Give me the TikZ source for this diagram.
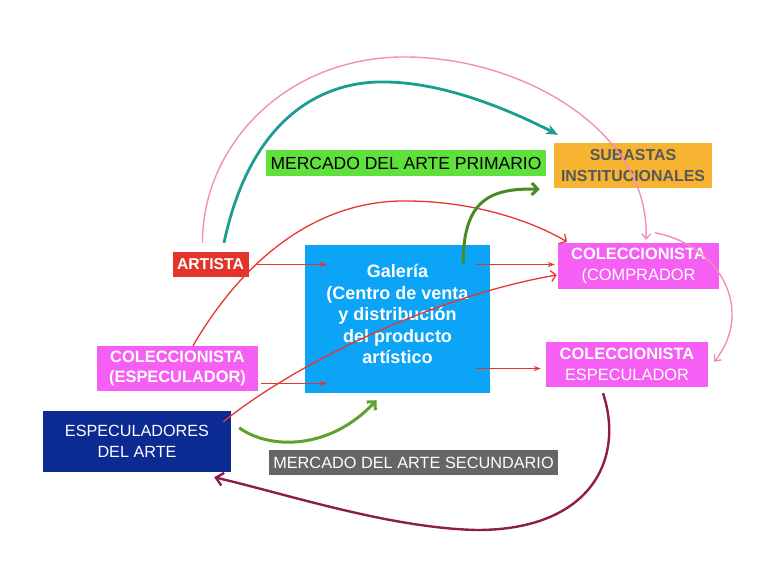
\documentclass[tikz,border=0pt]{standalone}
\usepackage{fontspec}
\setmainfont{Liberation Sans}
\usetikzlibrary{arrows.meta}
\definecolor{artistared}{HTML}{E3342B}
\definecolor{galeriablue}{HTML}{0BA4F6}
\definecolor{colecpink}{HTML}{F65FF3}
\definecolor{subastasorange}{HTML}{F6B432}
\definecolor{subastastext}{HTML}{585858}
\definecolor{primariogreen}{HTML}{5FE03D}
\definecolor{especblue}{HTML}{0B2A92}
\definecolor{secgray}{HTML}{666666}
\definecolor{flowred}{HTML}{E8362C}
\definecolor{flowteal}{HTML}{1B9E8F}
\definecolor{flowpink}{HTML}{F28DC2}
\definecolor{flowolive}{HTML}{4B8B26}
\definecolor{flowgreen}{HTML}{5EA12E}
\definecolor{flowmaroon}{HTML}{8E1D4E}

\begin{document}
\begin{tikzpicture}[x=1pt,y=-1pt,
    box/.style={inner sep=0pt,align=center,text=white},
    redflow/.style={draw=flowred,line width=1.2pt,-{Stealth[length=7pt,width=5pt]}},
    redcurve/.style={draw=flowred,line width=1.3pt,-{Straight Barb[length=5pt,width=11pt]}}]
    \useasboundingbox (0,0) rectangle (777,582);
    % boxes
    \node [box,fill=artistared,minimum width=76,minimum height=25,font=\bfseries\fontsize{15.7}{19}\selectfont] (artista) at (210.5,264.5) {ARTISTA};
    \node [box,fill=galeriablue,minimum width=185,minimum height=148,label={[text=white,align=center,font=\bfseries\fontsize{18}{21.5}\selectfont,yshift=5]center:{Galería\\(Centro de venta\\y distribución\\del producto\\artístico}}] (galeria) at (397.5,319) {};
    \node [box,fill=colecpink,minimum width=161,minimum height=46,font=\fontsize{16.4}{20.7}\selectfont] (comprador) at (638.5,266) {\textbf{COLECCIONISTA}\\(COMPRADOR};
    \node [box,fill=colecpink,minimum width=162,minimum height=45,font=\fontsize{16.4}{20.7}\selectfont] (colecesp) at (627,364.5) {\textbf{COLECCIONISTA}\\ESPECULADOR};
    \node [box,fill=colecpink,minimum width=161,minimum height=45,font=\bfseries\fontsize{16.4}{20.7}\selectfont] (colecizq) at (177.5,368.5) {COLECCIONISTA\\(ESPECULADOR)};
    \node [box,fill=subastasorange,text=subastastext,minimum width=158,minimum height=45,font=\bfseries\fontsize{15.9}{21}\selectfont] (subastas) at (633,165.5) {SUBASTAS\\INSTITUCIONALES};
    \node [box,fill=primariogreen,text=black,minimum width=280,minimum height=26,font=\fontsize{17.5}{20}\selectfont] (primario) at (406,163) {MERCADO DEL ARTE PRIMARIO};
    \node [box,fill=especblue,minimum width=188,minimum height=61,font=\fontsize{16.2}{21}\selectfont] (especuladores) at (137,441.5) {ESPECULADORES\\DEL ARTE};
    \node [box,fill=secgray,minimum width=289,minimum height=25,font=\fontsize{16.3}{19}\selectfont] (secundario) at (413.5,462.5) {MERCADO DEL ARTE SECUNDARIO};
    % straight flows
    \draw [redflow] ([xshift=8]artista.east) -- ([xshift=22]galeria.west |- artista.east);
    \draw [redflow] ([xshift=-14]galeria.east |- artista.east) -- ([xshift=-3]comprador.west |- artista.east);
    \draw [redflow] ([xshift=-14,yshift=-4]galeria.east |- colecesp.west) -- ([xshift=-5,yshift=-4]colecesp.west);
    \draw [redflow] ([xshift=3,yshift=-15]colecizq.east) -- ([xshift=22,yshift=-15]galeria.west |- colecizq.east);
    % curved flows
    \draw [flowpink,line width=1.4pt,-{Straight Barb[length=5pt,width=9pt]}] ([xshift=-8,yshift=9]artista.north) .. controls (202,150) and (280,60) .. (399,57) .. controls (520,55) and (650,130) .. ([xshift=7.5,yshift=3]comprador.north);
    \draw [flowteal,line width=2.8pt,-{Stealth[length=12pt,width=10pt]}] ([xshift=13.5,yshift=9]artista.north) .. controls (250,120) and (320,80) .. (387,82) .. controls (440,83) and (500,105) .. ([xshift=-75,yshift=8]subastas.north);
    \draw [redcurve] ([xshift=15.5]colecizq.north) .. controls (240,265) and (310,203) .. (400,201) .. controls (470,200) and (530,220) .. ([xshift=-71.5,yshift=1]comprador.north);
    \draw [redcurve] ([xshift=-8,yshift=-11]especuladores.north east) .. controls (300,360) and (440,295) .. ([xshift=-1,yshift=-9]comprador.west);
    \draw [flowolive,line width=3pt,-{Straight Barb[length=6pt,width=12pt]}] ([xshift=-27,yshift=-19]galeria.north east) .. controls (463,200) and (490,188) .. ([xshift=-14,yshift=-1]subastas.south west);
    \draw [flowgreen,line width=3pt,-{Straight Barb[length=6pt,width=12pt]}] ([xshift=8,yshift=-17]especuladores.north east) .. controls (270,450) and (330,450) .. ([xshift=-21,yshift=-7]galeria.south);
    \draw [flowmaroon,line width=2.4pt,-{Straight Barb[length=7pt,width=13pt]}] ([xshift=-24,yshift=-6]colecesp.south) .. controls (625,460) and (590,530) .. (477,530) .. controls (390,528) and (290,495) .. ([xshift=-17,yshift=-5]especuladores.south east);
    \draw [flowpink,line width=1.4pt,-{Straight Barb[length=5pt,width=9pt]}] ([xshift=16.5,yshift=10]comprador.north) .. controls (720,245) and (755,310) .. ([xshift=6,yshift=-20]colecesp.north east);
\end{tikzpicture}
\end{document}
